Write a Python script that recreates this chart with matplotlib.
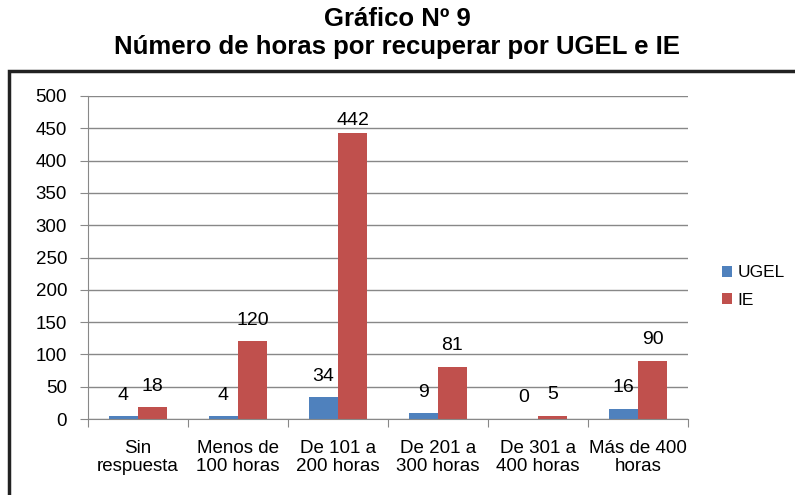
import numpy as np
import matplotlib.pyplot as plt
from matplotlib.patches import Rectangle

plt.rcParams['font.family'] = ['Liberation Sans', 'DejaVu Sans']

# data
categories = ["Sin\nrespuesta", "Menos de\n100 horas", "De 101 a\n200 horas",
              "De 201 a\n300 horas", "De 301 a\n400 horas", "Más de 400\nhoras"]
ugel = [4, 4, 34, 9, 0, 16]
ie = [18, 120, 442, 81, 5, 90]

blue = "#4F81BD"
red = "#C0504D"

fig = plt.figure(figsize=(7.95, 4.95), dpi=100)

# outer frame of the chart
fig.patches.append(Rectangle((9 / 795, -0.05), 1.0, 1 - 71 / 495 + 0.05,
                             transform=fig.transFigure, fill=False,
                             edgecolor="#222222", linewidth=2.5))

fig.text(0.5, 1 - 19 / 495, "Gráfico Nº 9", ha="center", va="center",
         fontsize=18.5, fontweight="bold")
fig.text(0.5, 1 - 47 / 495, "Número de horas por recuperar por UGEL e IE",
         ha="center", va="center", fontsize=18.5, fontweight="bold")

ax = fig.add_axes([88 / 795, 1 - 419 / 495, 600 / 795, 323 / 495])

x = np.arange(len(categories))
w = 0.29
b1 = ax.bar(x - w / 2, ugel, w, color=blue, label="UGEL")
b2 = ax.bar(x + w / 2, ie, w, color=red, label="IE")

for bars, vals in ((b1, ugel), (b2, ie)):
    for r, v in zip(bars, vals):
        off = 13 if v > 400 else 21
        ax.annotate(str(v), (r.get_x() + r.get_width() / 2, v),
                    xytext=(0, off), textcoords="offset pixels",
                    ha="center", va="center", fontsize=14)

ax.set_xlim(-0.5, len(categories) - 0.5)
ax.set_ylim(0, 500)
ax.set_yticks(range(0, 501, 50))
ax.set_xticks(np.arange(-0.5, len(categories), 1.0), minor=False)
ax.set_xticklabels([""] * (len(categories) + 1))
ax.set_xticks(x, minor=True)
ax.set_xticklabels(categories, minor=True, fontsize=13.5, linespacing=1.1)
ax.tick_params(axis="x", which="minor", length=0, pad=15)
ax.tick_params(axis="x", which="major", length=6, color="#888888")
ax.tick_params(axis="y", length=6, color="#888888", labelsize=13.5, pad=9)

ax.yaxis.grid(True, color="#888888", linewidth=1)
ax.set_axisbelow(True)
for s in ("top", "right"):
    ax.spines[s].set_visible(False)
for s in ("left", "bottom"):
    ax.spines[s].set_color("#888888")

ax.legend(loc="center left", bbox_to_anchor=(1.03, 0.41), frameon=False,
          fontsize=12.5, handlelength=0.6, handleheight=0.6,
          handletextpad=0.3, labelspacing=0.7)

fig.savefig("out.png", dpi=100)
